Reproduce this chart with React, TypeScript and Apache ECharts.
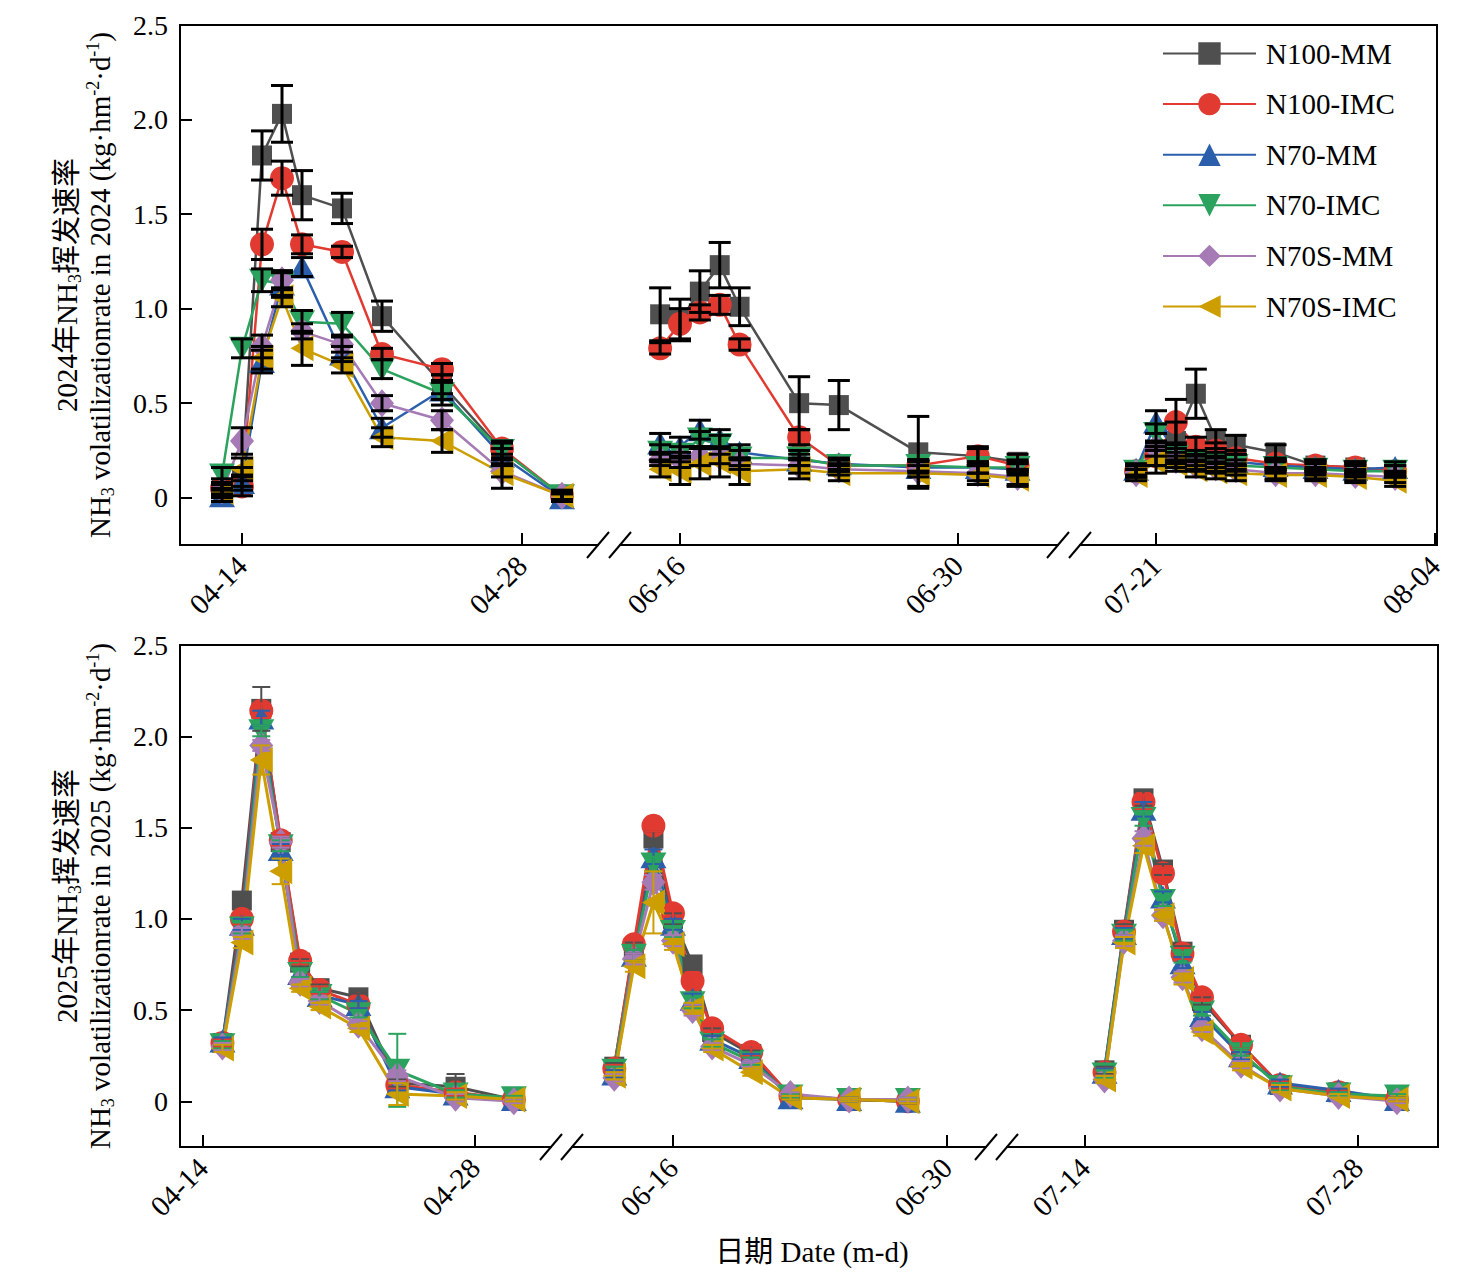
import React, { useEffect, useRef } from "react";
import * as echarts from "echarts";

// ---------------- DATA ----------------
const SERIES_NAMES = ["N100-MM", "N100-IMC", "N70-MM", "N70-IMC", "N70S-MM", "N70S-IMC"];

const TICKS_2024 = [["04-14", "04-28"], ["06-16", "06-30"], ["07-21", "08-04"]];
const TICKS_2025 = [["04-14", "04-28"], ["06-16", "06-30"], ["07-14", "07-28"]];
const Y_TICKS = [0, 0.5, 1, 1.5, 2, 2.5];

// 2024, period A (April)
const d2024A = ["04-13", "04-14", "04-15", "04-16", "04-17", "04-19", "04-21", "04-24", "04-27", "04-30"];
const m2024A = [
  [0.05, 0.11, 1.81, 2.03, 1.60, 1.53, 0.96, 0.60, 0.25, 0.01],
  [0.05, 0.06, 1.34, 1.69, 1.34, 1.30, 0.76, 0.68, 0.26, 0.01],
  [0.01, 0.08, 0.72, 1.13, 1.22, 0.76, 0.37, 0.57, 0.22, 0.00],
  [0.12, 0.79, 1.15, 1.13, 0.93, 0.92, 0.68, 0.55, 0.25, 0.01],
  [0.04, 0.30, 0.80, 1.15, 0.88, 0.81, 0.50, 0.41, 0.14, 0.01],
  [0.03, 0.15, 0.74, 1.06, 0.79, 0.70, 0.32, 0.30, 0.13, 0.01],
];
const e2024A = [
  [0.05, 0.05, 0.13, 0.15, 0.13, 0.08, 0.08, 0.05, 0.05, 0.02],
  [0.03, 0.05, 0.08, 0.09, 0.05, 0.03, 0.03, 0.03, 0.03, 0.02],
  [0.03, 0.04, 0.06, 0.07, 0.05, 0.04, 0.05, 0.05, 0.04, 0.02],
  [0.04, 0.05, 0.06, 0.06, 0.06, 0.06, 0.05, 0.06, 0.04, 0.02],
  [0.03, 0.07, 0.06, 0.05, 0.04, 0.04, 0.04, 0.05, 0.03, 0.02],
  [0.02, 0.06, 0.06, 0.05, 0.09, 0.04, 0.05, 0.06, 0.08, 0.03],
];

// 2024, period B (June)
const d2024B = ["06-15", "06-16", "06-17", "06-18", "06-19", "06-22", "06-24", "06-28", "07-01", "07-03"];
const m2024B = [
  [0.97, 0.94, 1.09, 1.23, 1.01, 0.50, 0.49, 0.24, 0.22, 0.19],
  [0.79, 0.92, 0.98, 1.02, 0.81, 0.32, 0.17, 0.17, 0.22, 0.17],
  [0.29, 0.27, 0.36, 0.31, 0.24, 0.20, 0.18, 0.16, 0.16, 0.15],
  [0.24, 0.23, 0.31, 0.28, 0.21, 0.21, 0.17, 0.17, 0.16, 0.16],
  [0.20, 0.20, 0.22, 0.22, 0.18, 0.17, 0.15, 0.14, 0.13, 0.11],
  [0.15, 0.14, 0.18, 0.19, 0.14, 0.15, 0.13, 0.13, 0.12, 0.10],
];
const e2024B = [
  [0.14, 0.11, 0.11, 0.12, 0.10, 0.14, 0.13, 0.19, 0.04, 0.04],
  [0.03, 0.08, 0.04, 0.05, 0.03, 0.04, 0.03, 0.03, 0.05, 0.03],
  [0.05, 0.05, 0.05, 0.05, 0.04, 0.03, 0.03, 0.03, 0.03, 0.03],
  [0.04, 0.04, 0.04, 0.05, 0.04, 0.04, 0.03, 0.03, 0.03, 0.03],
  [0.03, 0.04, 0.05, 0.04, 0.03, 0.04, 0.03, 0.03, 0.04, 0.04],
  [0.04, 0.07, 0.08, 0.08, 0.07, 0.05, 0.04, 0.07, 0.05, 0.04],
];

// 2024, period C (July)
const d2024C = ["07-20", "07-21", "07-22", "07-23", "07-24", "07-25", "07-27", "07-29", "07-31", "08-02"];
const m2024C = [
  [0.14, 0.22, 0.30, 0.55, 0.31, 0.28, 0.24, 0.17, 0.16, 0.14],
  [0.14, 0.22, 0.40, 0.27, 0.25, 0.21, 0.18, 0.17, 0.16, 0.14],
  [0.15, 0.40, 0.24, 0.21, 0.20, 0.19, 0.17, 0.16, 0.15, 0.16],
  [0.14, 0.34, 0.22, 0.19, 0.18, 0.17, 0.16, 0.15, 0.14, 0.14],
  [0.13, 0.26, 0.20, 0.17, 0.16, 0.15, 0.13, 0.13, 0.12, 0.11],
  [0.12, 0.19, 0.18, 0.15, 0.14, 0.13, 0.12, 0.12, 0.11, 0.09],
];
const e2024C = [
  [0.03, 0.05, 0.10, 0.13, 0.05, 0.05, 0.04, 0.03, 0.03, 0.03],
  [0.03, 0.05, 0.12, 0.05, 0.04, 0.04, 0.03, 0.03, 0.03, 0.03],
  [0.03, 0.06, 0.05, 0.04, 0.04, 0.04, 0.03, 0.03, 0.03, 0.03],
  [0.03, 0.05, 0.04, 0.04, 0.04, 0.03, 0.03, 0.03, 0.03, 0.03],
  [0.02, 0.04, 0.04, 0.03, 0.03, 0.03, 0.03, 0.03, 0.03, 0.03],
  [0.03, 0.06, 0.04, 0.04, 0.04, 0.04, 0.03, 0.03, 0.03, 0.03],
];

// 2025, period A (April)
const d2025A = ["04-15", "04-16", "04-17", "04-18", "04-19", "04-20", "04-22", "04-24", "04-27", "04-30"];
const m2025A = [
  [0.32, 1.10, 2.15, 1.42, 0.76, 0.62, 0.57, 0.10, 0.08, 0.01],
  [0.32, 1.00, 2.14, 1.43, 0.77, 0.61, 0.53, 0.09, 0.05, 0.01],
  [0.33, 0.97, 2.10, 1.38, 0.70, 0.58, 0.53, 0.08, 0.04, 0.01],
  [0.31, 0.95, 2.03, 1.40, 0.70, 0.58, 0.48, 0.17, 0.04, 0.02],
  [0.30, 0.92, 1.95, 1.42, 0.65, 0.55, 0.42, 0.14, 0.02, 0.00],
  [0.29, 0.87, 1.87, 1.26, 0.62, 0.52, 0.40, 0.04, 0.03, 0.01],
];
const e2025A = [
  [0.02, 0.03, 0.12, 0.03, 0.02, 0.02, 0.02, 0.02, 0.07, 0.01],
  [0.02, 0.03, 0.04, 0.03, 0.02, 0.02, 0.02, 0.02, 0.02, 0.01],
  [0.02, 0.03, 0.04, 0.03, 0.02, 0.02, 0.02, 0.02, 0.02, 0.01],
  [0.02, 0.03, 0.03, 0.03, 0.02, 0.02, 0.02, 0.20, 0.02, 0.01],
  [0.02, 0.03, 0.03, 0.03, 0.02, 0.02, 0.02, 0.03, 0.02, 0.01],
  [0.02, 0.03, 0.08, 0.07, 0.02, 0.02, 0.02, 0.06, 0.02, 0.01],
];

// 2025, period B (June)
const d2025B = ["06-13", "06-14", "06-15", "06-16", "06-17", "06-18", "06-20", "06-22", "06-25", "06-28"];
const m2025B = [
  [0.19, 0.84, 1.44, 1.00, 0.75, 0.38, 0.26, 0.03, 0.01, 0.00],
  [0.18, 0.86, 1.51, 1.03, 0.66, 0.40, 0.27, 0.03, 0.01, 0.00],
  [0.15, 0.80, 1.34, 0.97, 0.56, 0.34, 0.24, 0.02, 0.01, 0.00],
  [0.17, 0.80, 1.30, 0.93, 0.54, 0.32, 0.22, 0.03, 0.01, 0.01],
  [0.13, 0.78, 1.20, 0.88, 0.50, 0.30, 0.20, 0.04, 0.01, 0.01],
  [0.14, 0.74, 1.09, 0.86, 0.51, 0.29, 0.16, 0.02, 0.01, 0.00],
];
const e2025B = [
  [0.02, 0.03, 0.04, 0.03, 0.03, 0.02, 0.02, 0.01, 0.01, 0.01],
  [0.02, 0.03, 0.03, 0.03, 0.03, 0.02, 0.02, 0.01, 0.01, 0.01],
  [0.02, 0.03, 0.04, 0.03, 0.03, 0.02, 0.02, 0.01, 0.01, 0.01],
  [0.02, 0.03, 0.04, 0.03, 0.03, 0.02, 0.02, 0.01, 0.01, 0.01],
  [0.02, 0.03, 0.04, 0.03, 0.03, 0.02, 0.02, 0.01, 0.01, 0.01],
  [0.02, 0.03, 0.17, 0.03, 0.03, 0.02, 0.02, 0.01, 0.01, 0.01],
];

// 2025, period C (July)
const d2025C = ["07-15", "07-16", "07-17", "07-18", "07-19", "07-20", "07-22", "07-24", "07-27", "07-30"];
const m2025C = [
  [0.17, 0.94, 1.66, 1.27, 0.82, 0.55, 0.31, 0.09, 0.05, 0.01],
  [0.16, 0.93, 1.64, 1.25, 0.81, 0.57, 0.31, 0.09, 0.05, 0.01],
  [0.16, 0.92, 1.60, 1.12, 0.76, 0.47, 0.25, 0.10, 0.06, 0.01],
  [0.15, 0.91, 1.55, 1.10, 0.79, 0.49, 0.27, 0.08, 0.04, 0.03],
  [0.12, 0.88, 1.44, 1.02, 0.68, 0.40, 0.20, 0.07, 0.03, 0.00],
  [0.12, 0.87, 1.40, 1.02, 0.67, 0.38, 0.19, 0.07, 0.03, 0.01],
];
const e2025C = [
  [0.02, 0.03, 0.04, 0.03, 0.03, 0.02, 0.02, 0.02, 0.01, 0.01],
  [0.02, 0.03, 0.04, 0.03, 0.03, 0.02, 0.02, 0.02, 0.01, 0.01],
  [0.02, 0.03, 0.04, 0.03, 0.03, 0.02, 0.02, 0.02, 0.01, 0.01],
  [0.02, 0.03, 0.04, 0.03, 0.03, 0.02, 0.02, 0.02, 0.01, 0.01],
  [0.02, 0.03, 0.04, 0.03, 0.03, 0.02, 0.02, 0.02, 0.01, 0.01],
  [0.02, 0.03, 0.04, 0.03, 0.03, 0.02, 0.02, 0.02, 0.01, 0.01],
];

// ---------------- STYLE / LAYOUT ----------------
const FONT = "'Liberation Serif', 'Times New Roman', 'Noto Sans CJK SC', serif";
const FS = 29;
const COLORS = ["#4f4f4f", "#e03a31", "#2c5fab", "#2ba35e", "#a67ab5", "#cc9e00"];
const SYMBOLS = [
  "rect",
  "circle",
  "triangle",
  "path://M0,0L10,0L5,9Z",
  "diamond",
  "path://M9,0L9,10L0,5Z",
];
const SYMBOL_SIZES: any[] = [20, 24, [26, 23], [26, 23], [24, 28], [23, 26]];

const PANELS = [
  {
    year: "2024",
    top: 25,
    bottom: 545,
    ticks: TICKS_2024,
    periods: [
      { dates: d2024A, mean: m2024A, err: e2024A },
      { dates: d2024B, mean: m2024B, err: e2024B },
      { dates: d2024C, mean: m2024C, err: e2024C },
    ],
    segs: [
      { l: 180, r: 598, p1: 242, p2: 522 },
      { l: 620, r: 1058, p1: 680, p2: 958 },
      { l: 1080, r: 1437, p1: 1156, p2: 1435 },
    ],
    errBlack: true,
    lineWidth: 2.5,
  },
  {
    year: "2025",
    top: 645,
    bottom: 1147,
    ticks: TICKS_2025,
    periods: [
      { dates: d2025A, mean: m2025A, err: e2025A },
      { dates: d2025B, mean: m2025B, err: e2025B },
      { dates: d2025C, mean: m2025C, err: e2025C },
    ],
    segs: [
      { l: 180, r: 551, p1: 203, p2: 475 },
      { l: 572, r: 986, p1: 673, p2: 947 },
      { l: 1007, r: 1438, p1: 1085, p2: 1358 },
    ],
    errBlack: false,
    lineWidth: 3,
  },
];

const dayOf = (s: string) => {
  const [m, d] = s.split("-").map(Number);
  return Math.round(Date.UTC(2024, m - 1, d) / 86400000);
};
const pad = (n: number) => (n < 10 ? "0" + n : "" + n);
const fmtDay = (v: number) => {
  const dt = new Date(Math.round(v) * 86400000);
  return pad(dt.getUTCMonth() + 1) + "-" + pad(dt.getUTCDate());
};

function buildOption() {
  const grid: any[] = [];
  const xAxis: any[] = [];
  const yAxis: any[] = [];
  const series: any[] = [];
  const graphic: any[] = [];
  const black = "#000";

  PANELS.forEach((panel) => {
    const height = panel.bottom - panel.top;
    panel.segs.forEach((seg, si) => {
      const gi = grid.length;
      const t1 = dayOf(panel.ticks[si][0]);
      const t2 = dayOf(panel.ticks[si][1]);
      const ppd = (seg.p2 - seg.p1) / (t2 - t1);
      const min = t1 - (seg.p1 - seg.l) / ppd;
      const max = t1 + (seg.r - seg.p1) / ppd;
      grid.push({ left: seg.l, top: panel.top, width: seg.r - seg.l, height, containLabel: false });
      xAxis.push({
        type: "value",
        gridIndex: gi,
        min,
        max,
        axisLine: { show: true, onZero: false, lineStyle: { color: black, width: 2 } },
        axisTick: { show: true, inside: true, length: 12, lineStyle: { color: black, width: 2 }, customValues: [t1, t2] },
        axisLabel: {
          show: true,
          rotate: 45,
          margin: 16,
          fontSize: FS,
          fontFamily: FONT,
          color: black,
          customValues: [t1, t2],
          formatter: (v: number) => fmtDay(v),
        },
        splitLine: { show: false },
      });
      yAxis.push({
        type: "value",
        gridIndex: gi,
        min: -0.25,
        max: 2.5,
        show: si === 0,
        axisLine: { show: si === 0, lineStyle: { color: black, width: 2 } },
        axisTick: { show: si === 0, inside: true, length: 12, lineStyle: { color: black, width: 2 }, customValues: Y_TICKS },
        axisLabel: {
          show: si === 0,
          margin: 12,
          fontSize: 28,
          fontFamily: FONT,
          color: black,
          customValues: Y_TICKS,
          formatter: (v: number) => (v === 0 ? "0" : v.toFixed(1)),
        },
        splitLine: { show: false },
      });

      const per = panel.periods[si];
      const errData: any[] = [];
      SERIES_NAMES.forEach((name, k) => {
        series.push({
          type: "line",
          name,
          xAxisIndex: gi,
          yAxisIndex: gi,
          data: per.dates.map((d, i) => [dayOf(d), per.mean[k][i]]),
          symbol: SYMBOLS[k],
          symbolSize: SYMBOL_SIZES[k],
          showSymbol: true,
          showAllSymbol: true,
          lineStyle: { color: COLORS[k], width: panel.lineWidth },
          itemStyle: { color: COLORS[k] },
          emphasis: { disabled: true },
          silent: true,
          clip: false,
          z: 2,
        });
        per.dates.forEach((d, i) => {
          errData.push([dayOf(d), per.mean[k][i], per.err[k][i], k]);
        });
      });
      const errBlack = panel.errBlack;
      series.push({
        type: "custom",
        name: "err-" + gi,
        xAxisIndex: gi,
        yAxisIndex: gi,
        encode: { x: 0, y: 1 },
        data: errData,
        silent: true,
        clip: false,
        z: 3,
        renderItem: (params: any, api: any) => {
          const x = api.value(0);
          const y = api.value(1);
          const e = api.value(2);
          const k = api.value(3);
          if (!e) return null;
          const hi = api.coord([x, y + e]);
          const lo = api.coord([x, y - e]);
          const stroke = errBlack ? "#000" : COLORS[k];
          const lw = errBlack ? 3 : 2;
          const w = errBlack ? 22 : 18;
          return {
            type: "group",
            children: [
              { type: "line", shape: { x1: hi[0], y1: hi[1], x2: lo[0], y2: lo[1] }, style: { stroke, lineWidth: lw } },
              { type: "line", shape: { x1: hi[0] - w / 2, y1: hi[1], x2: hi[0] + w / 2, y2: hi[1] }, style: { stroke, lineWidth: lw } },
              { type: "line", shape: { x1: lo[0] - w / 2, y1: lo[1], x2: lo[0] + w / 2, y2: lo[1] }, style: { stroke, lineWidth: lw } },
            ],
          };
        },
      });
    });

    // frame: top and right borders
    const left = panel.segs[0].l;
    const right = panel.segs[2].r;
    graphic.push({ type: "line", shape: { x1: left - 1, y1: panel.top, x2: right + 1, y2: panel.top }, style: { stroke: black, lineWidth: 2 }, z: 10 });
    graphic.push({ type: "line", shape: { x1: right, y1: panel.top, x2: right, y2: panel.bottom + 1 }, style: { stroke: black, lineWidth: 2 }, z: 10 });
    // axis break slashes
    for (let s = 0; s < 2; s++) {
      [panel.segs[s].r, panel.segs[s + 1].l].forEach((cx) => {
        graphic.push({
          type: "line",
          shape: { x1: cx - 11, y1: panel.bottom + 13, x2: cx + 11, y2: panel.bottom - 13 },
          style: { stroke: black, lineWidth: 2 },
          z: 10,
        });
      });
    }
    // y titles
    const cy = (panel.top + panel.bottom) / 2;
    const richBase = {
      a: { fontSize: FS, fontFamily: FONT, fill: black, lineHeight: 33 },
      s: { fontSize: 18, fontFamily: FONT, fill: black, lineHeight: 18, verticalAlign: "bottom" },
      p: { fontSize: 18, fontFamily: FONT, fill: black, lineHeight: 18, verticalAlign: "top" },
    };
    graphic.push({
      type: "text",
      x: 67,
      y: cy,
      rotation: Math.PI / 2,
      z: 10,
      style: {
        text: `{a|${panel.year}年NH}{s|3}{a|挥发速率}`,
        rich: richBase,
        align: "center",
        verticalAlign: "middle",
      },
    });
    graphic.push({
      type: "text",
      x: 100,
      y: cy,
      rotation: Math.PI / 2,
      z: 10,
      style: {
        text: `{a|NH}{s|3}{a| volatilizationrate in ${panel.year} (kg·hm}{p|-2}{a|·d}{p|-1}{a|)}`,
        rich: richBase,
        align: "center",
        verticalAlign: "middle",
      },
    });
  });

  graphic.push({
    type: "text",
    x: 812,
    y: 1252,
    z: 10,
    style: {
      text: "日期 Date (m-d)",
      fontSize: FS,
      fontFamily: FONT,
      fill: black,
      align: "center",
      verticalAlign: "middle",
    },
  });

  return {
    animation: false,
    backgroundColor: "#fff",
    textStyle: { fontFamily: FONT },
    legend: {
      data: SERIES_NAMES,
      orient: "vertical",
      left: 1162,
      top: 39,
      padding: 0,
      itemWidth: 93,
      itemHeight: 28,
      itemGap: 21.6,
      selectedMode: false,
      textStyle: { fontSize: FS, fontFamily: FONT, color: black, padding: [0, 0, 0, 5] },
    },
    grid,
    xAxis,
    yAxis,
    series,
    graphic,
  };
}

export default function App() {
  const ref = useRef<HTMLDivElement>(null);
  useEffect(() => {
    if (!ref.current) return;
    const chart = echarts.init(ref.current, null, { renderer: "svg" });
    chart.setOption(buildOption() as any);
    return () => chart.dispose();
  }, []);
  return (
    <div
      ref={ref}
      style={{ position: "fixed", left: 0, top: 0, width: 1467, height: 1284, background: "#fff" }}
    />
  );
}
